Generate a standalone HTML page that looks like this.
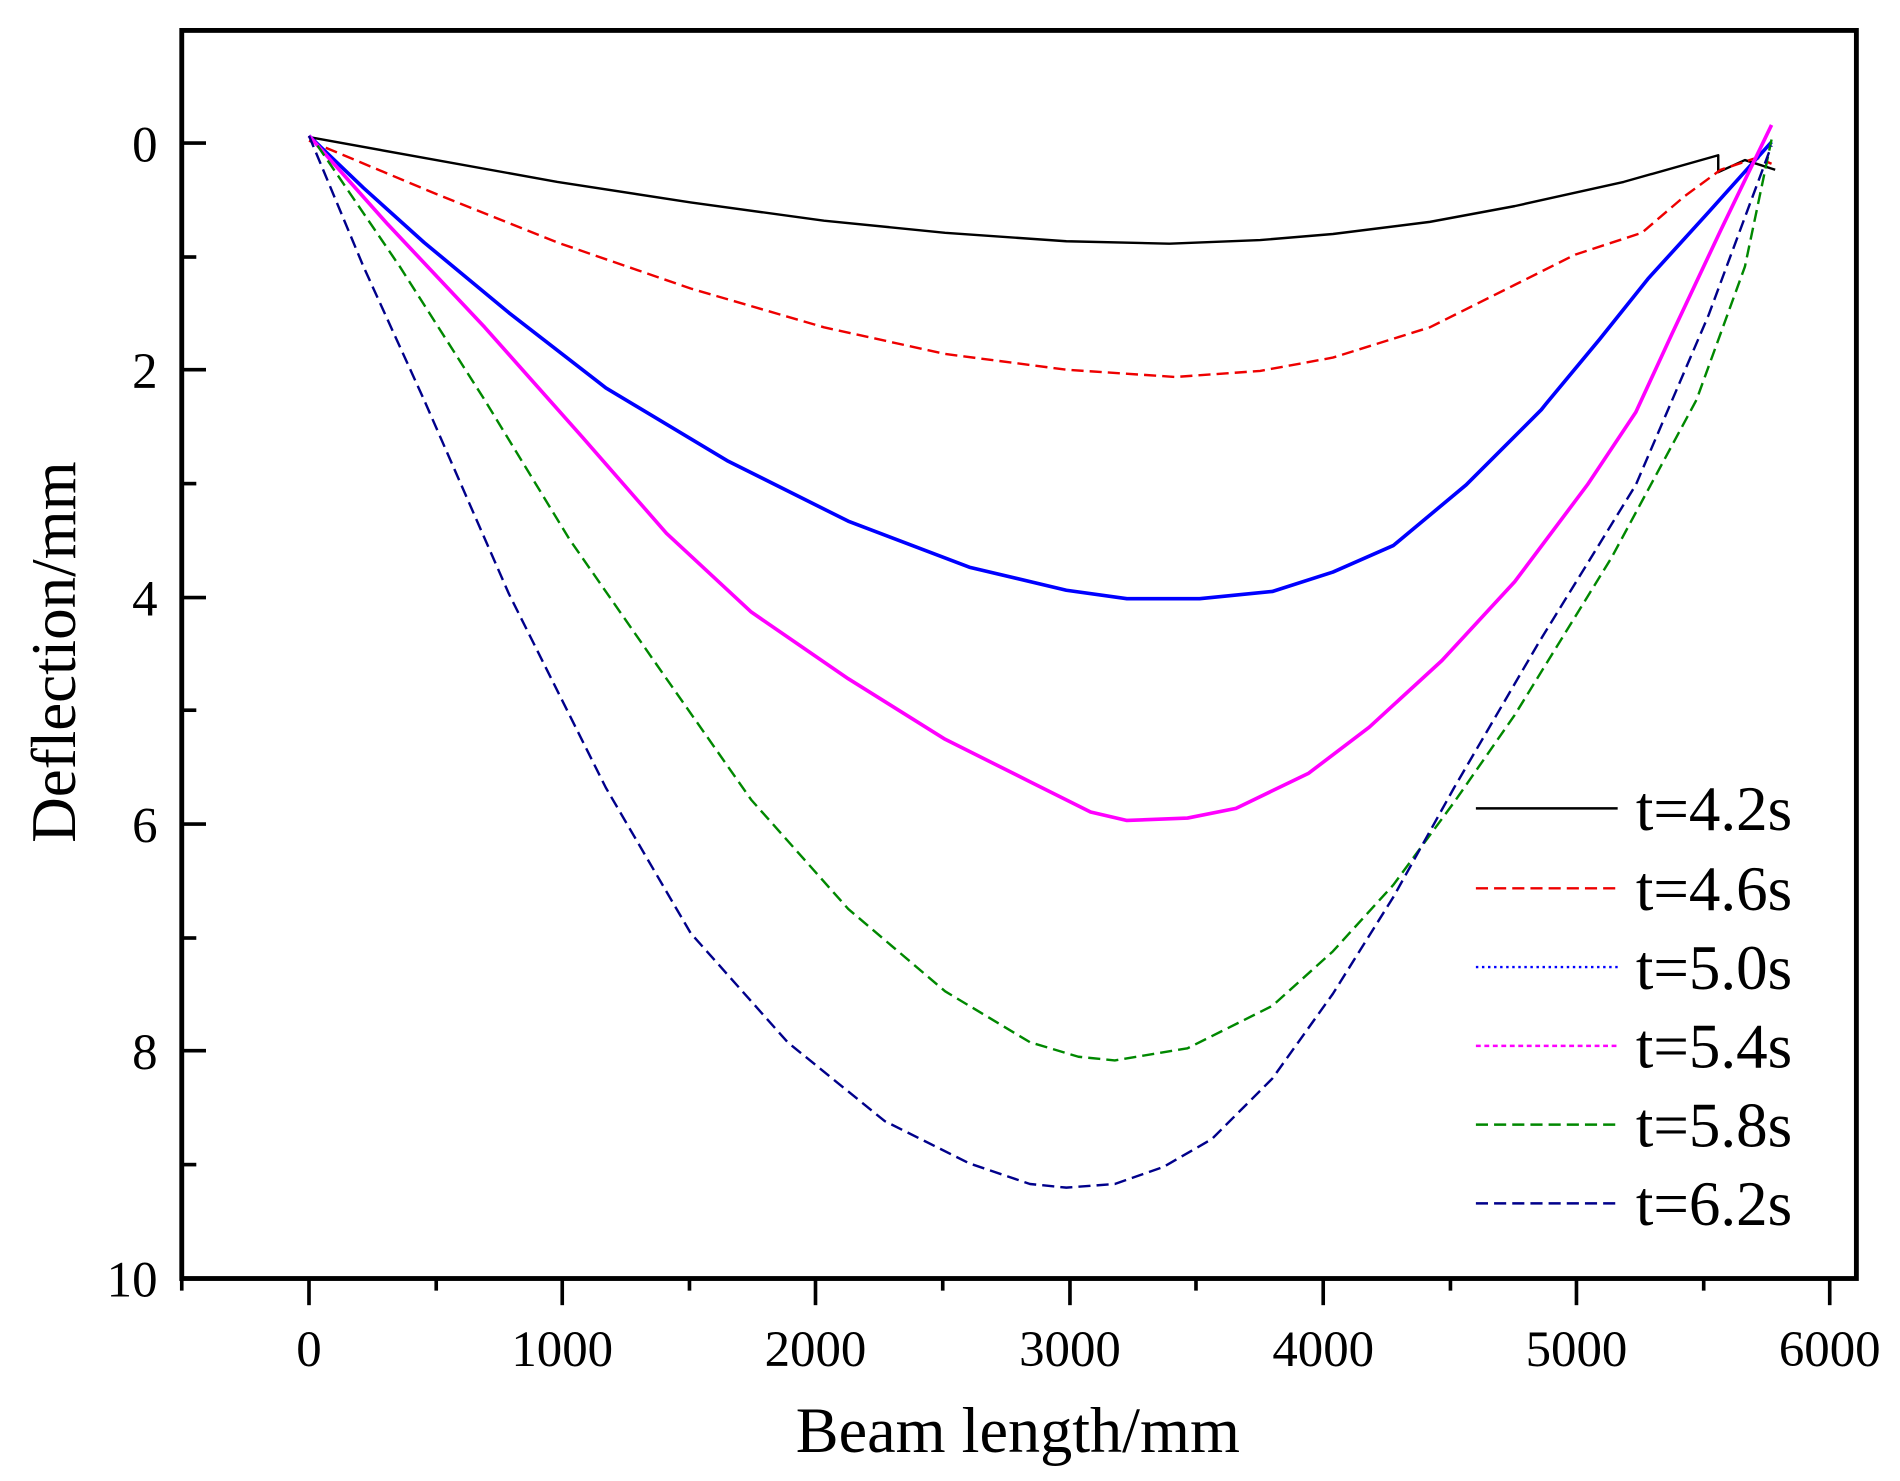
<!DOCTYPE html>
<html><head><meta charset="utf-8"><style>html,body{margin:0;padding:0;background:#fff}svg{display:block}</style></head>
<body>
<svg width="1900" height="1481" viewBox="0 0 1568 1222" xmlns="http://www.w3.org/2000/svg" font-family="Liberation Serif, serif">
<rect width="1568" height="1222" fill="#fff"/>
<g fill="none" stroke-linejoin="round">
<polyline stroke="#000" stroke-width="2" points="255,113 360,132 460,150 570,167 680,182 780,192 880,199 965,201 1040,198 1100,193 1180,183 1250,170 1340,150 1418,128 1418,142 1440,132 1465,140"/>
<polyline stroke="#e00" stroke-width="2" stroke-dasharray="10,5" points="255,116 360,160 460,200 570,238 680,270 780,292 880,305 970,311 1040,306 1100,295 1180,270 1250,235 1300,210 1355,192 1390,162 1420,140 1450,130 1462,135"/>
<polyline stroke="#00f" stroke-width="3" points="255,112 300,155 350,200 420,258 500,320 600,380 700,430 800,468 880,487 930,494 990,494 1050,488 1100,472 1150,450 1210,400 1272,338 1276,333 1320,280 1360,230 1410,175 1462,117"/>
<polyline stroke="#f0f" stroke-width="3" points="255,112 320,185 400,270 480,360 550,440 620,505 700,560 780,610 850,645 900,670 930,677 980,675 1020,667 1080,638 1130,600 1190,545 1250,480 1310,400 1350,340 1380,275 1420,190 1462,103"/>
<polyline stroke="#080" stroke-width="2" stroke-dasharray="10,5" points="262,120 330,220 400,330 470,445 550,560 620,660 700,750 780,818 850,860 890,872 920,875 980,865 1050,830 1100,785 1150,730 1200,662 1250,590 1330,460 1400,330 1440,220 1462,115"/>
<polyline stroke="#00008b" stroke-width="2" stroke-dasharray="10,5" points="255,112 300,220 350,330 420,490 500,650 570,770 650,860 730,925 800,960 850,977 880,980 920,977 960,963 1000,940 1050,890 1100,820 1150,740 1200,650 1270,530 1350,400 1410,260 1462,120"/>
</g>
<g stroke="#000" stroke-width="4" fill="none">
<rect x="150" y="25" width="1382" height="1030"/>
</g>
<g stroke="#000" stroke-width="3">
<line x1="150" y1="118" x2="170" y2="118"/><line x1="150" y1="305" x2="170" y2="305"/><line x1="150" y1="493" x2="170" y2="493"/><line x1="150" y1="680" x2="170" y2="680"/><line x1="150" y1="867" x2="170" y2="867"/>
<line x1="150" y1="212" x2="162" y2="212"/><line x1="150" y1="399" x2="162" y2="399"/><line x1="150" y1="586" x2="162" y2="586"/><line x1="150" y1="774" x2="162" y2="774"/><line x1="150" y1="961" x2="162" y2="961"/>
<line x1="255" y1="1055" x2="255" y2="1077"/><line x1="464" y1="1055" x2="464" y2="1077"/><line x1="673" y1="1055" x2="673" y2="1077"/><line x1="883" y1="1055" x2="883" y2="1077"/><line x1="1092" y1="1055" x2="1092" y2="1077"/><line x1="1301" y1="1055" x2="1301" y2="1077"/><line x1="1510" y1="1055" x2="1510" y2="1077"/>
<line x1="150" y1="1055" x2="150" y2="1065"/><line x1="360" y1="1055" x2="360" y2="1065"/><line x1="569" y1="1055" x2="569" y2="1065"/><line x1="778" y1="1055" x2="778" y2="1065"/><line x1="987" y1="1055" x2="987" y2="1065"/><line x1="1197" y1="1055" x2="1197" y2="1065"/><line x1="1406" y1="1055" x2="1406" y2="1065"/>
</g>
<g font-size="42" fill="#000" text-anchor="end">
<text x="130" y="133">0</text><text x="130" y="320">2</text><text x="130" y="508">4</text><text x="130" y="695">6</text><text x="130" y="882">8</text><text x="130" y="1070">10</text>
</g>
<g font-size="42" fill="#000" text-anchor="middle">
<text x="255" y="1127">0</text><text x="464" y="1127">1000</text><text x="673" y="1127">2000</text><text x="883" y="1127">3000</text><text x="1092" y="1127">4000</text><text x="1301" y="1127">5000</text><text x="1510" y="1127">6000</text>
</g>
<text x="840" y="1198" font-size="53" text-anchor="middle">Beam length/mm</text>
<text transform="translate(62,538) rotate(-90)" font-size="52" text-anchor="middle">Deflection/mm</text>
<g stroke-width="2">
<line x1="1218" y1="667" x2="1335" y2="667" stroke="#000"/>
<line x1="1218" y1="733" x2="1335" y2="733" stroke="#e00" stroke-dasharray="10,5"/>
<line x1="1218" y1="798" x2="1335" y2="798" stroke="#00f" stroke-dasharray="2,3"/>
<line x1="1218" y1="863" x2="1335" y2="863" stroke="#f0f" stroke-dasharray="4,3"/>
<line x1="1218" y1="928" x2="1335" y2="928" stroke="#080" stroke-dasharray="10,5"/>
<line x1="1218" y1="993" x2="1335" y2="993" stroke="#00008b" stroke-dasharray="10,5"/>
</g>
<g font-size="52" fill="#000">
<text x="1350" y="685">t=4.2s</text><text x="1350" y="751">t=4.6s</text><text x="1350" y="816">t=5.0s</text><text x="1350" y="881">t=5.4s</text><text x="1350" y="946">t=5.8s</text><text x="1350" y="1011">t=6.2s</text>
</g>
</svg>
</body></html>
